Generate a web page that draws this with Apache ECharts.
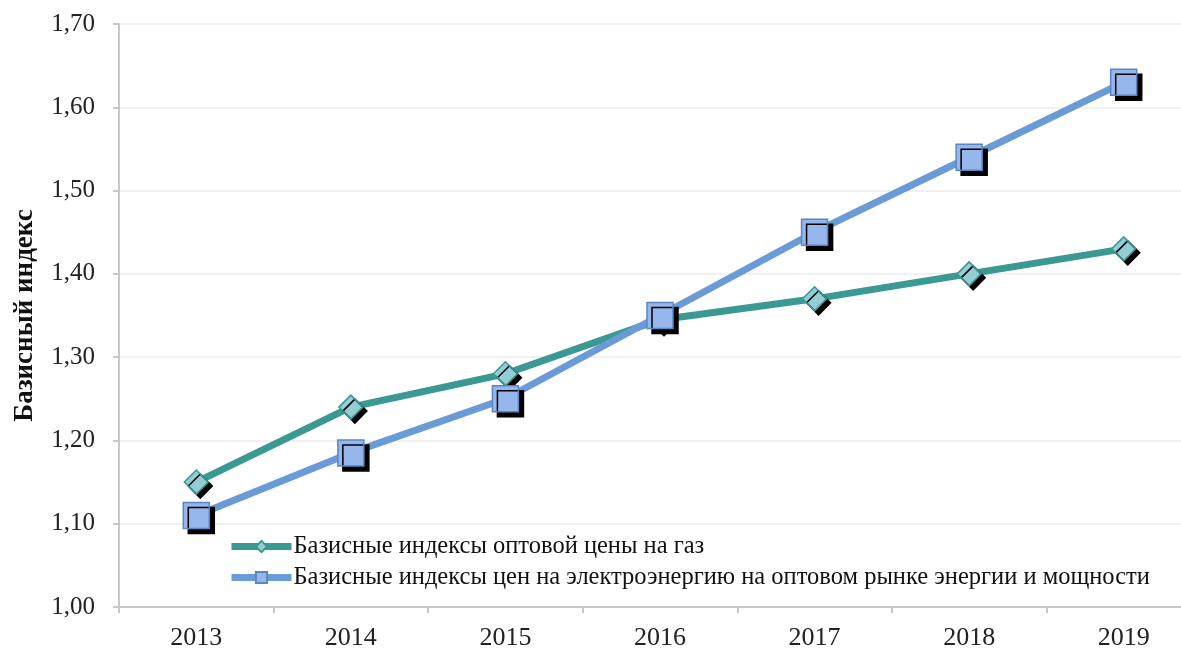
<!DOCTYPE html>
<html><head><meta charset="utf-8">
<script src="https://cdn.jsdelivr.net/npm/echarts@6/dist/echarts.min.js"></script>
<style>html,body{margin:0;padding:0;background:#fff;overflow:hidden}#c{width:1201px;height:652px}</style>
</head><body><div id="c"></div>
<script>
const categories = ['2013','2014','2015','2016','2017','2018','2019'];
const gasIndex = [1.15, 1.24, 1.28, 1.345, 1.37, 1.40, 1.43];
const elecIndex = [1.11, 1.185, 1.25, 1.35, 1.45, 1.54, 1.63];
const seriesNames = ['Базисные индексы оптовой цены на газ',
  'Базисные индексы цен на электроэнергию на оптовом рынке энергии и мощности'];
const yAxisName = 'Базисный индекс';

const font = '"Liberation Serif", "DejaVu Serif", serif';
const chart = echarts.init(document.getElementById('c'));
chart.setOption({
  animation: false,
  grid: {left: 119, right: 0, top: 24, bottom: 45},
  legend: {
    orient: 'vertical', left: 223, top: 529, itemGap: 6,
    itemWidth: 60, itemHeight: 14,
    lineStyle: {width: 7},
    textStyle: {fontFamily: font, fontSize: 24.5, lineHeight: 25, color: '#111', padding: [0,0,0,-3]},
    data: seriesNames
  },
  xAxis: {
    type: 'category', data: categories, boundaryGap: true,
    axisLine: {lineStyle: {color: '#c8c8c8', width: 2}},
    axisTick: {show: true, length: 6, lineStyle: {color: '#c8c8c8', width: 2}},
    axisLabel: {fontFamily: font, fontSize: 26, color: '#222', margin: 18}
  },
  yAxis: {
    type: 'value', min: 1.0, max: 1.7, interval: 0.1,
    name: yAxisName, nameLocation: 'middle', nameGap: 80, nameRotate: 90,
    nameTextStyle: {fontFamily: font, fontSize: 27, fontWeight: 'bold', color: '#111'},
    axisLine: {show: true, lineStyle: {color: '#c8c8c8', width: 2}},
    axisTick: {show: true, length: 6, lineStyle: {color: '#c8c8c8', width: 2}},
    splitLine: {lineStyle: {color: '#ececec', width: 1.5}},
    axisLabel: {fontFamily: font, fontSize: 25, color: '#222', margin: 24,
      formatter: v => v.toFixed(2).replace('.', ',')}
  },
  series: [
    {name: seriesNames[0], type: 'line', data: gasIndex,
     symbol: 'diamond', symbolSize: 24,
     lineStyle: {color: '#3b9993', width: 7},
     itemStyle: {color: '#93cdd6', borderColor: '#3b9993', borderWidth: 1.5,
       shadowColor: '#000', shadowOffsetX: 4, shadowOffsetY: 4, shadowBlur: 0}},
    {name: seriesNames[1], type: 'line', data: elecIndex,
     symbol: 'rect', symbolSize: 26,
     lineStyle: {color: '#6a9bd6', width: 7},
     itemStyle: {color: '#97b6ec', borderColor: '#5b86c6', borderWidth: 1.5,
       shadowColor: '#000', shadowOffsetX: 5, shadowOffsetY: 5, shadowBlur: 0}}
  ]
});
</script></body></html>
